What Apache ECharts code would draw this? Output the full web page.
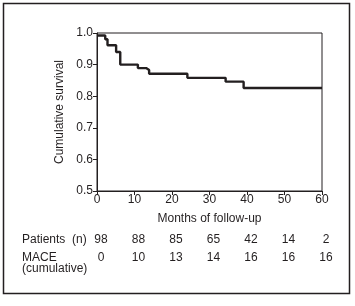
<!DOCTYPE html>
<html><head><meta charset="utf-8">
<script src="https://cdn.jsdelivr.net/npm/echarts@6/dist/echarts.min.js"></script>
<style>html,body{margin:0;padding:0;background:#fff;}#c{width:355px;height:306px;}</style>
</head><body><div id="c"></div>
<script>
var months = [0, 2.2, 2.8, 5.1, 6.2, 10.9, 13.1, 13.9, 24.1, 34.3, 39.1, 60];
var survival = [0.992, 0.980, 0.961, 0.940, 0.900, 0.889, 0.883, 0.871, 0.858, 0.846, 0.826, 0.826];
var xTicks = [0, 10, 20, 30, 40, 50, 60];
var yTicks = [0.5, 0.6, 0.7, 0.8, 0.9, 1.0];
var tableMonths = [0, 10, 20, 30, 40, 50, 60];
var patients = [98, 88, 85, 65, 42, 14, 2];
var mace = [0, 10, 13, 14, 16, 16, 16];
var rowLabels = ['Patients  (n)', 'MACE', '(cumulative)'];

var FONT = '"Liberation Sans Narrow", "Liberation Sans", Arial, sans-serif';
var INK = '#231f20';
var chart = echarts.init(document.getElementById('c'), null, {renderer: 'canvas'});
var data = months.map(function (m, i) { return [m, survival[i]]; });
chart.setOption({
  animation: false,
  backgroundColor: '#fff',
  grid: {left: 97, top: 33, right: 33, bottom: 115, show: true, borderColor: INK, borderWidth: 1, backgroundColor: 'transparent'},
  xAxis: {
    type: 'value', min: 0, max: 60, interval: 10,
    name: 'Months of follow-up', nameLocation: 'middle', nameGap: 22,
    nameTextStyle: {fontFamily: FONT, fontSize: 12, color: INK},
    axisLine: {show: true, lineStyle: {color: INK, width: 1}},
    axisTick: {show: true, length: 4, lineStyle: {color: INK}},
    axisLabel: {fontFamily: FONT, fontSize: 12, color: INK, margin: 3,
      formatter: function (v) { return xTicks.indexOf(v) >= 0 ? String(v) : ''; }},
    splitLine: {show: false}
  },
  yAxis: {
    type: 'value', min: 0.5, max: 1.0, interval: 0.1,
    name: 'Cumulative survival', nameLocation: 'middle', nameGap: 31,
    nameTextStyle: {fontFamily: FONT, fontSize: 12, color: INK},
    axisLine: {show: true, lineStyle: {color: INK, width: 1}},
    axisTick: {show: true, length: 4, lineStyle: {color: INK}},
    axisLabel: {fontFamily: FONT, fontSize: 12, color: INK, margin: 4,
      formatter: function (v) { return yTicks.some(function (t) { return Math.abs(t - v) < 1e-6; }) ? v.toFixed(1) : ''; }},
    splitLine: {show: false}
  },
  series: [{
    type: 'line', step: 'end', data: data, symbol: 'none',
    lineStyle: {color: INK, width: 2.4}
  }]
});

var g = [];
g.push({type: 'rect', shape: {x: 3.5, y: 3.5, width: 346, height: 290}, style: {fill: 'none', stroke: INK, lineWidth: 1.5}, z: 10});
var rowY = [240, 258];
g.push({type: 'text', x: 22, y: rowY[0], style: {text: rowLabels[0], font: '12px ' + FONT, fill: INK, textVerticalAlign: 'middle'}});
g.push({type: 'text', x: 22, y: rowY[1], style: {text: rowLabels[1], font: '12px ' + FONT, fill: INK, textVerticalAlign: 'middle'}});
g.push({type: 'text', x: 22, y: 269, style: {text: rowLabels[2], font: '12px ' + FONT, fill: INK, textVerticalAlign: 'middle'}});
tableMonths.forEach(function (m, i) {
  var px = chart.convertToPixel({xAxisIndex: 0}, m) + 4;
  g.push({type: 'text', x: px, y: rowY[0], style: {text: String(patients[i]), font: '12px ' + FONT, fill: INK, textAlign: 'center', textVerticalAlign: 'middle'}});
  g.push({type: 'text', x: px, y: rowY[1], style: {text: String(mace[i]), font: '12px ' + FONT, fill: INK, textAlign: 'center', textVerticalAlign: 'middle'}});
});
chart.setOption({graphic: g});
</script></body></html>
